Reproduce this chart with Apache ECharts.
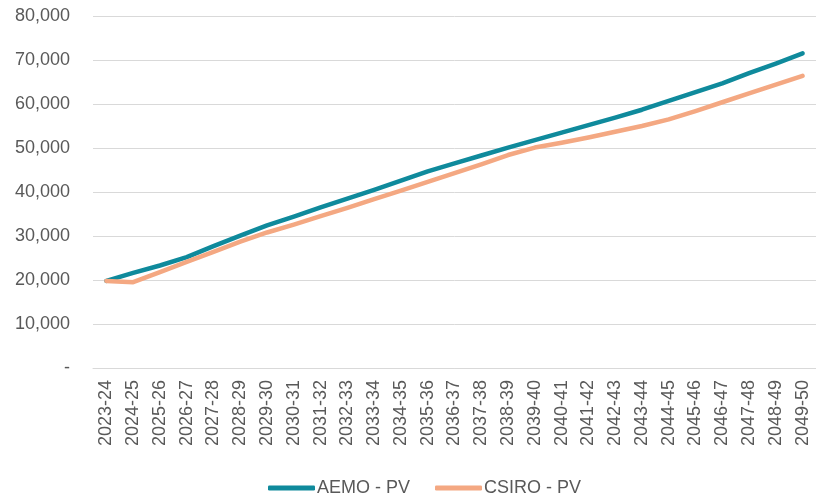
<!DOCTYPE html>
<html>
<head>
<meta charset="utf-8">
<script src="https://cdn.jsdelivr.net/npm/echarts@6/dist/echarts.min.js"></script>
<style>
html,body{margin:0;padding:0;background:#fff;}
#chart{width:816px;height:498px;}
</style>
</head>
<body>
<div id="chart"></div>
<script>
var categories = ["2023-24","2024-25","2025-26","2026-27","2027-28","2028-29","2029-30","2030-31","2031-32","2032-33","2033-34","2034-35","2035-36","2036-37","2037-38","2038-39","2039-40","2040-41","2041-42","2042-43","2043-44","2044-45","2045-46","2046-47","2047-48","2048-49","2049-50"];
var aemoPV = [19800,21600,23300,25200,27700,30100,32400,34400,36500,38500,40500,42600,44700,46500,48300,50100,51800,53500,55200,56900,58700,60700,62700,64700,67000,69200,71500];
var csiroPV = [19800,19500,21800,24100,26400,28700,30800,32600,34500,36400,38400,40300,42300,44300,46300,48400,50100,51200,52400,53700,55000,56500,58400,60400,62400,64400,66400];
var seriesNames = ["AEMO - PV","CSIRO - PV"];

var font = "'Liberation Sans', Arial, sans-serif";
var chart = echarts.init(document.getElementById('chart'), null, {renderer:'canvas'});
chart.setOption({
  animation:false,
  backgroundColor:'#ffffff',
  grid:{left:93, right:-4, top:16, bottom:130, containLabel:false},
  legend:{
    left:263, top:474,
    itemWidth:47, itemHeight:5, itemGap:25,
    icon:'roundRect',
    textStyle:{fontFamily:font, fontSize:18, color:'#595959', padding:[0,0,0,-3]},
    data:seriesNames
  },
  xAxis:{
    type:'category', data:categories, boundaryGap:true,
    axisLine:{lineStyle:{color:'#d9d9d9', width:1}},
    axisTick:{show:false},
    axisLabel:{rotate:90, interval:0, margin:12, fontFamily:font, fontSize:18, color:'#595959'}
  },
  yAxis:{
    type:'value', min:0, max:80000, interval:10000,
    axisLine:{show:false}, axisTick:{show:false},
    splitLine:{lineStyle:{color:'#d9d9d9', width:1}},
    axisLabel:{margin:23, fontFamily:font, fontSize:18, color:'#595959',
      formatter:function(v){ return v===0 ? '-' : v.toLocaleString('en-US'); }}
  },
  series:[
    {name:seriesNames[0], type:'line', data:aemoPV, symbol:'none', smooth:false,
     lineStyle:{color:'#0f8a9c', width:4.5, cap:'round', join:'round'}, itemStyle:{color:'#0f8a9c'}},
    {name:seriesNames[1], type:'line', data:csiroPV, symbol:'none', smooth:false,
     lineStyle:{color:'#f4a882', width:4.5, cap:'round', join:'round'}, itemStyle:{color:'#f4a882'}}
  ]
});
</script>
</body>
</html>
